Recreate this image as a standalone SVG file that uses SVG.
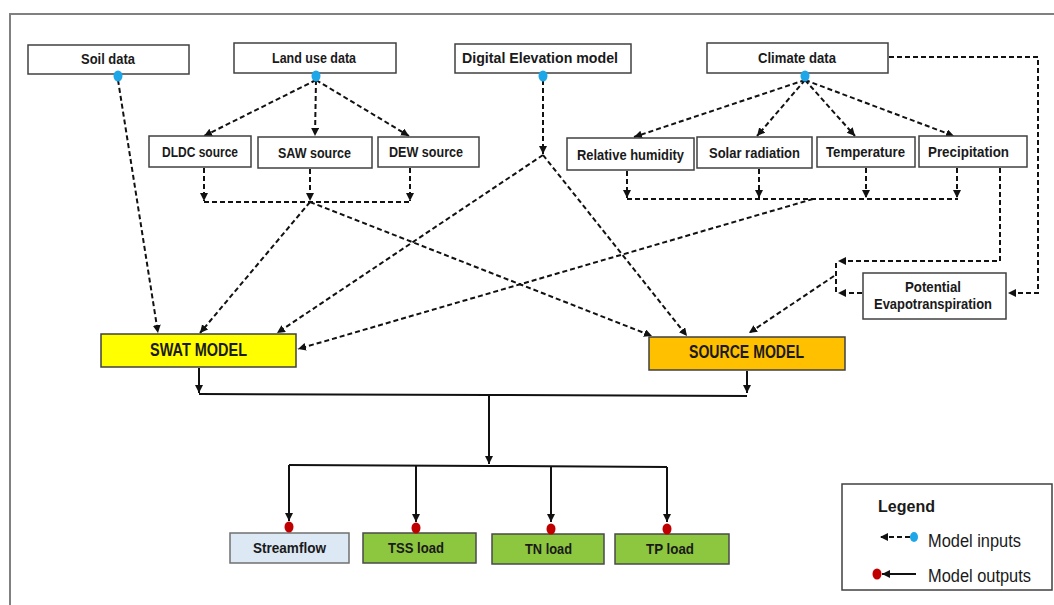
<svg xmlns="http://www.w3.org/2000/svg" width="1054" height="605" viewBox="0 0 1054 605">
<style>
.bx{fill:#fff;stroke:#404040;stroke-width:1.5}
.t{font-family:"Liberation Sans",Arial,sans-serif;font-weight:bold;font-size:15px;fill:#1a1a1a;text-anchor:middle}
.tb{font-family:"Liberation Sans",Arial,sans-serif;font-weight:bold;font-size:18.5px;fill:#1a1a1a;text-anchor:middle}
.lg{font-family:"Liberation Sans",Arial,sans-serif;font-size:18px;fill:#1a1a1a}
.d{fill:none;stroke:#111;stroke-width:2;stroke-dasharray:5 3}
.s{fill:none;stroke:#111;stroke-width:2}
.bd{fill:#1ea7e8}
.rd{fill:#c00000}
</style>
<defs>
<marker id="ah" markerUnits="userSpaceOnUse" markerWidth="9" markerHeight="9" refX="8" refY="4" orient="auto">
<path d="M0,0 L8,4 L0,8 z" fill="#111" stroke="none"/>
</marker>
</defs>
<rect width="1054" height="605" fill="#fff"/>
<path d="M10,605 V14 H1054" fill="none" stroke="#808080" stroke-width="2"/>

<g id="connectors">
<path class="d" d="M118,80 L158,333" marker-end="url(#ah)"/>
<path class="d" d="M316,80 L204,136" marker-end="url(#ah)"/>
<path class="d" d="M316,80 L315,136" marker-end="url(#ah)"/>
<path class="d" d="M316,80 L409,136" marker-end="url(#ah)"/>
<path class="d" d="M543,80 L543,154" marker-end="url(#ah)"/>
<path class="d" d="M543,155 L277,333" marker-end="url(#ah)"/>
<path class="d" d="M543,155 L687,336" marker-end="url(#ah)"/>
<path class="d" d="M805,80 L634,137" marker-end="url(#ah)"/>
<path class="d" d="M805,80 L757,136" marker-end="url(#ah)"/>
<path class="d" d="M805,80 L855,136" marker-end="url(#ah)"/>
<path class="d" d="M805,80 L954,136" marker-end="url(#ah)"/>
<path class="d" d="M204,168 V201" marker-end="url(#ah)"/>
<path class="d" d="M310,169 V201" marker-end="url(#ah)"/>
<path class="d" d="M410,168 V201" marker-end="url(#ah)"/>
<path class="d" d="M204,202 H412"/>
<path class="d" d="M310,202 L200,333" marker-end="url(#ah)"/>
<path class="d" d="M310,202 L652,336" marker-end="url(#ah)"/>
<path class="d" d="M627,171 V198" marker-end="url(#ah)"/>
<path class="d" d="M759,169 V198" marker-end="url(#ah)"/>
<path class="d" d="M866,168 V198" marker-end="url(#ah)"/>
<path class="d" d="M957,168 V198" marker-end="url(#ah)"/>
<path class="d" d="M627,199 H958"/>
<path class="d" d="M813,199 L298,349" marker-end="url(#ah)"/>
<path class="d" d="M889,57 H1038 V293 H1008" marker-end="url(#ah)"/>
<path class="d" d="M1000,168 V261 H838" marker-end="url(#ah)"/>
<path class="d" d="M836,263 V293"/>
<path class="d" d="M862,293 H838" marker-end="url(#ah)"/>
<path class="d" d="M834,276 L749,333" marker-end="url(#ah)"/>
<path class="s" d="M199,368 V393" marker-end="url(#ah)"/>
<path class="s" d="M747,371 V393" marker-end="url(#ah)"/>
<path class="s" d="M199,394 L489,395 L747,396"/>
<path class="s" d="M489,395 V464" marker-end="url(#ah)"/>
<path class="s" d="M289,465 L489,466 L667,467"/>
<path class="s" d="M289,465 V521" marker-end="url(#ah)"/>
<path class="s" d="M416,466 V522" marker-end="url(#ah)"/>
<path class="s" d="M551,466 V522" marker-end="url(#ah)"/>
<path class="s" d="M667,467 V522" marker-end="url(#ah)"/>
</g>

<g id="soil"><rect class="bx" x="28" y="45" width="161" height="29"/><text class="t" x="108" y="64" textLength="54" lengthAdjust="spacingAndGlyphs">Soil data</text><ellipse class="bd" cx="118" cy="76" rx="4.5" ry="5.5"/></g>
<g id="landuse"><rect class="bx" x="234" y="43" width="162" height="30"/><text class="t" x="314" y="63" textLength="84" lengthAdjust="spacingAndGlyphs">Land use data</text><ellipse class="bd" cx="316" cy="76" rx="4.5" ry="5.5"/></g>
<g id="dem"><rect class="bx" x="455" y="44" width="176" height="29"/><text class="t" x="540" y="63" textLength="156" lengthAdjust="spacingAndGlyphs">Digital Elevation model</text><ellipse class="bd" cx="543" cy="76" rx="4.5" ry="5.5"/></g>
<g id="climate"><rect class="bx" x="707" y="43" width="181" height="30"/><text class="t" x="797" y="63" textLength="78" lengthAdjust="spacingAndGlyphs">Climate data</text><ellipse class="bd" cx="805" cy="76" rx="4.5" ry="5.5"/></g>

<g id="dldc"><rect class="bx" x="149" y="136" width="102" height="31"/><text class="t" x="200" y="157" textLength="76" lengthAdjust="spacingAndGlyphs">DLDC source</text></g>
<g id="saw"><rect class="bx" x="258" y="137" width="114" height="31"/><text class="t" x="314.5" y="158" textLength="73" lengthAdjust="spacingAndGlyphs">SAW source</text></g>
<g id="dew"><rect class="bx" x="378" y="137" width="101" height="30"/><text class="t" x="426" y="157" textLength="74" lengthAdjust="spacingAndGlyphs">DEW source</text></g>
<g id="rh"><rect class="bx" x="567" y="138" width="127" height="32"/><text class="t" x="630.5" y="160" textLength="107" lengthAdjust="spacingAndGlyphs">Relative humidity</text></g>
<g id="sr"><rect class="bx" x="697" y="137" width="115" height="31"/><text class="t" x="754.5" y="158" textLength="91" lengthAdjust="spacingAndGlyphs">Solar radiation</text></g>
<g id="temp"><rect class="bx" x="817" y="137" width="98" height="30"/><text class="t" x="865.5" y="157" textLength="79" lengthAdjust="spacingAndGlyphs">Temperature</text></g>
<g id="precip"><rect class="bx" x="919" y="136" width="108" height="31"/><text class="t" x="968.5" y="157" textLength="81" lengthAdjust="spacingAndGlyphs">Precipitation</text></g>

<g id="pet"><rect class="bx" x="863" y="273" width="143" height="46"/><text class="t" x="933" y="292" textLength="56" lengthAdjust="spacingAndGlyphs">Potential</text><text class="t" x="933" y="309" textLength="118" lengthAdjust="spacingAndGlyphs">Evapotranspiration</text></g>

<g id="swat"><rect x="101" y="334" width="195" height="33" fill="#ffff00" stroke="#404040" stroke-width="1.5"/><text class="tb" x="198.5" y="356" textLength="97" lengthAdjust="spacingAndGlyphs">SWAT MODEL</text></g>
<g id="source"><rect x="649" y="337" width="196" height="33" fill="#ffc000" stroke="#404040" stroke-width="1.5"/><text class="tb" x="746.5" y="358" textLength="115" lengthAdjust="spacingAndGlyphs">SOURCE MODEL</text></g>

<g id="streamflow"><rect x="230" y="533" width="119" height="30" fill="#dce8f4" stroke="#707070" stroke-width="1.5"/><text class="t" x="289.5" y="553" textLength="73" lengthAdjust="spacingAndGlyphs">Streamflow</text><ellipse class="rd" cx="289" cy="527" rx="4.5" ry="5.5"/></g>
<g id="tss"><rect x="363" y="533" width="113" height="30" fill="#8dc63f" stroke="#4a4a4a" stroke-width="1.5"/><text class="t" x="416" y="553" textLength="56" lengthAdjust="spacingAndGlyphs">TSS load</text><ellipse class="rd" cx="416" cy="528" rx="4.5" ry="5.5"/></g>
<g id="tn"><rect x="492" y="534" width="112" height="30" fill="#8dc63f" stroke="#4a4a4a" stroke-width="1.5"/><text class="t" x="548.5" y="554" textLength="47" lengthAdjust="spacingAndGlyphs">TN load</text><ellipse class="rd" cx="551" cy="529" rx="4.5" ry="5.5"/></g>
<g id="tp"><rect x="615" y="534" width="114" height="30" fill="#8dc63f" stroke="#4a4a4a" stroke-width="1.5"/><text class="t" x="670" y="554" textLength="48" lengthAdjust="spacingAndGlyphs">TP load</text><ellipse class="rd" cx="667" cy="529" rx="4.5" ry="5.5"/></g>

<g id="legend">
<rect x="842" y="484" width="210" height="106" fill="#fff" stroke="#404040" stroke-width="1.5"/>
<text x="878" y="512" font-family="Liberation Sans, Arial, sans-serif" font-weight="bold" font-size="17" fill="#1a1a1a" textLength="57" lengthAdjust="spacingAndGlyphs">Legend</text>
<path class="d" d="M910,537 H880" marker-end="url(#ah)"/>
<ellipse class="bd" cx="914" cy="537" rx="4" ry="5"/>
<text class="lg" x="928" y="547" textLength="93" lengthAdjust="spacingAndGlyphs">Model inputs</text>
<path class="s" d="M916,574 H882" marker-end="url(#ah)"/>
<ellipse class="rd" cx="877" cy="574" rx="4.5" ry="5.5"/>
<text class="lg" x="928" y="582" textLength="103" lengthAdjust="spacingAndGlyphs">Model outputs</text>
</g>
</svg>
